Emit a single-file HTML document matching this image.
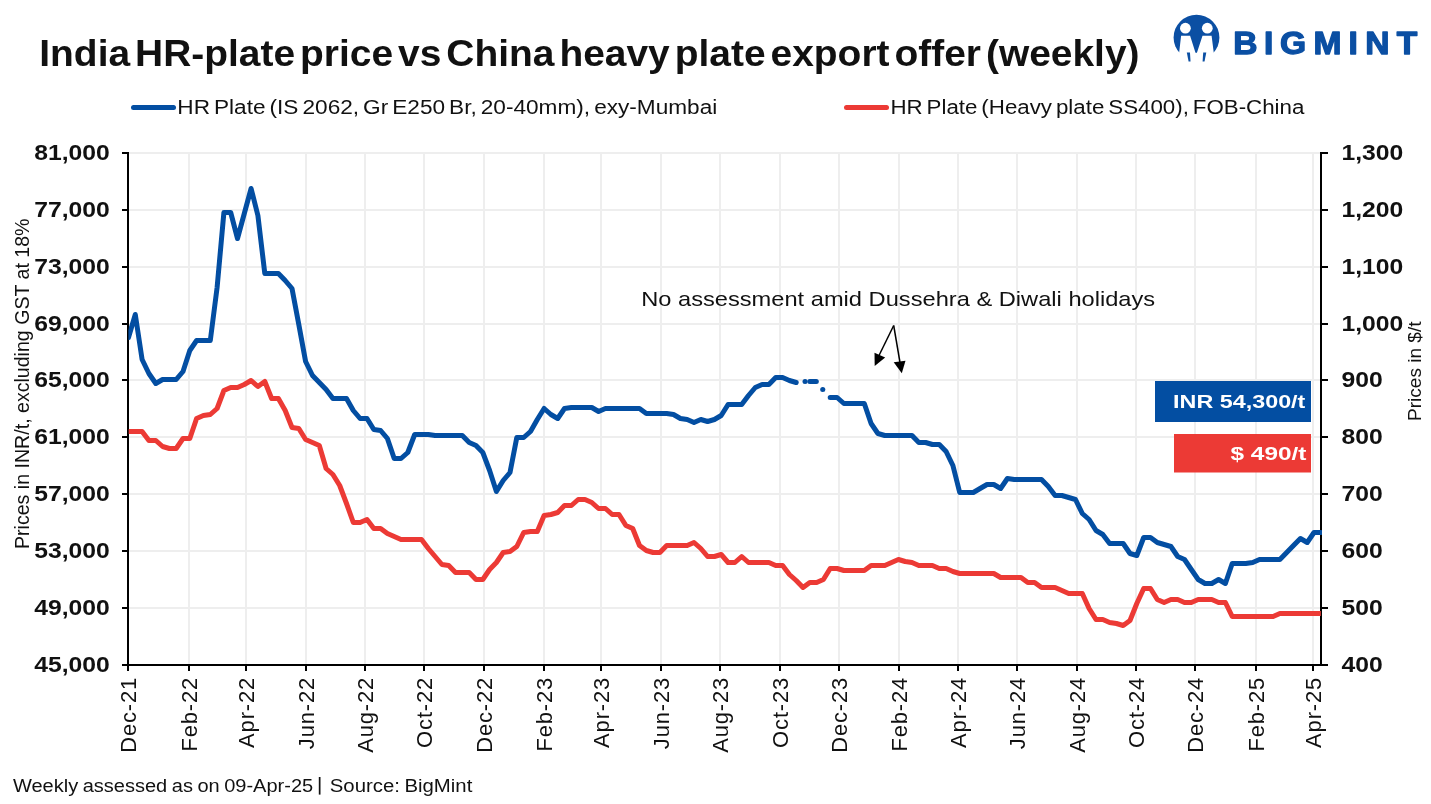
<!DOCTYPE html>
<html><head><meta charset="utf-8"><style>
html,body{margin:0;padding:0;background:#fff;}
body{width:1431px;height:804px;overflow:hidden;}
svg{display:block;will-change:transform;}
text{font-family:"Liberation Sans",sans-serif;fill:#111;white-space:pre;}
.yl{font-size:21.5px;font-weight:bold;letter-spacing:0px;}
.xl{font-size:22px;letter-spacing:0.85px;}
</style></head><body>
<svg width="1431" height="804" viewBox="0 0 1431 804">
<rect width="1431" height="804" fill="#fff"/>
<text x="39.3" y="66" style="font-size:37px;word-spacing:-5.5px;font-weight:bold;" textLength="1100.2" lengthAdjust="spacingAndGlyphs" >India HR-plate price vs China heavy plate export offer (weekly)</text>
<line x1="133.5" y1="107.5" x2="173.5" y2="107.5" stroke="#034ea2" stroke-width="5" stroke-linecap="round"/>
<text x="177.3" y="113.7" style="font-size:20px;word-spacing:-2px;" textLength="540" lengthAdjust="spacingAndGlyphs" >HR Plate (IS 2062, Gr E250 Br, 20-40mm), exy-Mumbai</text>
<line x1="846.5" y1="107.5" x2="886.5" y2="107.5" stroke="#ec3a35" stroke-width="5" stroke-linecap="round"/>
<text x="890.4" y="113.7" style="font-size:20px;word-spacing:-2px;" textLength="414" lengthAdjust="spacingAndGlyphs" >HR Plate (Heavy plate SS400), FOB-China</text>
<g stroke="#eeeeee" stroke-width="2"><line x1="189" y1="153" x2="189" y2="665" /><line x1="246" y1="153" x2="246" y2="665" /><line x1="306" y1="153" x2="306" y2="665" /><line x1="365" y1="153" x2="365" y2="665" /><line x1="424" y1="153" x2="424" y2="665" /><line x1="484" y1="153" x2="484" y2="665" /><line x1="544" y1="153" x2="544" y2="665" /><line x1="601" y1="153" x2="601" y2="665" /><line x1="661" y1="153" x2="661" y2="665" /><line x1="720" y1="153" x2="720" y2="665" /><line x1="780" y1="153" x2="780" y2="665" /><line x1="839" y1="153" x2="839" y2="665" /><line x1="899" y1="153" x2="899" y2="665" /><line x1="958" y1="153" x2="958" y2="665" /><line x1="1017" y1="153" x2="1017" y2="665" /><line x1="1077" y1="153" x2="1077" y2="665" /><line x1="1136" y1="153" x2="1136" y2="665" /><line x1="1195" y1="153" x2="1195" y2="665" /><line x1="1256" y1="153" x2="1256" y2="665" /><line x1="1313" y1="153" x2="1313" y2="665" /><line x1="129" y1="153" x2="1320" y2="153" /><line x1="129" y1="210" x2="1320" y2="210" /><line x1="129" y1="267" x2="1320" y2="267" /><line x1="129" y1="324" x2="1320" y2="324" /><line x1="129" y1="380" x2="1320" y2="380" /><line x1="129" y1="437" x2="1320" y2="437" /><line x1="129" y1="494" x2="1320" y2="494" /><line x1="129" y1="551" x2="1320" y2="551" /><line x1="129" y1="608" x2="1320" y2="608" /></g>
<g stroke="#000" stroke-width="2"><line x1="122" y1="153" x2="128" y2="153"/><line x1="1321" y1="153" x2="1328" y2="153"/><line x1="122" y1="210" x2="128" y2="210"/><line x1="1321" y1="210" x2="1328" y2="210"/><line x1="122" y1="267" x2="128" y2="267"/><line x1="1321" y1="267" x2="1328" y2="267"/><line x1="122" y1="324" x2="128" y2="324"/><line x1="1321" y1="324" x2="1328" y2="324"/><line x1="122" y1="380" x2="128" y2="380"/><line x1="1321" y1="380" x2="1328" y2="380"/><line x1="122" y1="437" x2="128" y2="437"/><line x1="1321" y1="437" x2="1328" y2="437"/><line x1="122" y1="494" x2="128" y2="494"/><line x1="1321" y1="494" x2="1328" y2="494"/><line x1="122" y1="551" x2="128" y2="551"/><line x1="1321" y1="551" x2="1328" y2="551"/><line x1="122" y1="608" x2="128" y2="608"/><line x1="1321" y1="608" x2="1328" y2="608"/><line x1="122" y1="665" x2="128" y2="665"/><line x1="1321" y1="665" x2="1328" y2="665"/><line x1="128" y1="665" x2="128" y2="671"/><line x1="189" y1="665" x2="189" y2="671"/><line x1="246" y1="665" x2="246" y2="671"/><line x1="306" y1="665" x2="306" y2="671"/><line x1="365" y1="665" x2="365" y2="671"/><line x1="424" y1="665" x2="424" y2="671"/><line x1="484" y1="665" x2="484" y2="671"/><line x1="544" y1="665" x2="544" y2="671"/><line x1="601" y1="665" x2="601" y2="671"/><line x1="661" y1="665" x2="661" y2="671"/><line x1="720" y1="665" x2="720" y2="671"/><line x1="780" y1="665" x2="780" y2="671"/><line x1="839" y1="665" x2="839" y2="671"/><line x1="899" y1="665" x2="899" y2="671"/><line x1="958" y1="665" x2="958" y2="671"/><line x1="1017" y1="665" x2="1017" y2="671"/><line x1="1077" y1="665" x2="1077" y2="671"/><line x1="1136" y1="665" x2="1136" y2="671"/><line x1="1195" y1="665" x2="1195" y2="671"/><line x1="1256" y1="665" x2="1256" y2="671"/><line x1="1313" y1="665" x2="1313" y2="671"/>
<line x1="128" y1="152" x2="128" y2="666"/>
<line x1="1321" y1="152" x2="1321" y2="666"/>
<line x1="122" y1="665" x2="1328" y2="665"/>
</g>
<text transform="translate(109.8,160.2) scale(1.15,1)" text-anchor="end" class="yl">81,000</text><text transform="translate(1341.5,160.2) scale(1.15,1)" class="yl">1,300</text><text transform="translate(109.8,217.2) scale(1.15,1)" text-anchor="end" class="yl">77,000</text><text transform="translate(1341.5,217.2) scale(1.15,1)" class="yl">1,200</text><text transform="translate(109.8,274.2) scale(1.15,1)" text-anchor="end" class="yl">73,000</text><text transform="translate(1341.5,274.2) scale(1.15,1)" class="yl">1,100</text><text transform="translate(109.8,331.2) scale(1.15,1)" text-anchor="end" class="yl">69,000</text><text transform="translate(1341.5,331.2) scale(1.15,1)" class="yl">1,000</text><text transform="translate(109.8,387.2) scale(1.15,1)" text-anchor="end" class="yl">65,000</text><text transform="translate(1341.5,387.2) scale(1.15,1)" class="yl">900</text><text transform="translate(109.8,444.2) scale(1.15,1)" text-anchor="end" class="yl">61,000</text><text transform="translate(1341.5,444.2) scale(1.15,1)" class="yl">800</text><text transform="translate(109.8,501.2) scale(1.15,1)" text-anchor="end" class="yl">57,000</text><text transform="translate(1341.5,501.2) scale(1.15,1)" class="yl">700</text><text transform="translate(109.8,558.2) scale(1.15,1)" text-anchor="end" class="yl">53,000</text><text transform="translate(1341.5,558.2) scale(1.15,1)" class="yl">600</text><text transform="translate(109.8,615.2) scale(1.15,1)" text-anchor="end" class="yl">49,000</text><text transform="translate(1341.5,615.2) scale(1.15,1)" class="yl">500</text><text transform="translate(109.8,672.2) scale(1.15,1)" text-anchor="end" class="yl">45,000</text><text transform="translate(1341.5,672.2) scale(1.15,1)" class="yl">400</text>
<text transform="translate(136.0,676.8) rotate(-90)" text-anchor="end" class="xl">Dec-21</text><text transform="translate(197.0,676.8) rotate(-90)" text-anchor="end" class="xl">Feb-22</text><text transform="translate(254.0,676.8) rotate(-90)" text-anchor="end" class="xl">Apr-22</text><text transform="translate(314.0,676.8) rotate(-90)" text-anchor="end" class="xl">Jun-22</text><text transform="translate(373.0,676.8) rotate(-90)" text-anchor="end" class="xl">Aug-22</text><text transform="translate(432.0,676.8) rotate(-90)" text-anchor="end" class="xl">Oct-22</text><text transform="translate(492.0,676.8) rotate(-90)" text-anchor="end" class="xl">Dec-22</text><text transform="translate(552.0,676.8) rotate(-90)" text-anchor="end" class="xl">Feb-23</text><text transform="translate(609.0,676.8) rotate(-90)" text-anchor="end" class="xl">Apr-23</text><text transform="translate(669.0,676.8) rotate(-90)" text-anchor="end" class="xl">Jun-23</text><text transform="translate(728.0,676.8) rotate(-90)" text-anchor="end" class="xl">Aug-23</text><text transform="translate(788.0,676.8) rotate(-90)" text-anchor="end" class="xl">Oct-23</text><text transform="translate(847.0,676.8) rotate(-90)" text-anchor="end" class="xl">Dec-23</text><text transform="translate(907.0,676.8) rotate(-90)" text-anchor="end" class="xl">Feb-24</text><text transform="translate(966.0,676.8) rotate(-90)" text-anchor="end" class="xl">Apr-24</text><text transform="translate(1025.0,676.8) rotate(-90)" text-anchor="end" class="xl">Jun-24</text><text transform="translate(1085.0,676.8) rotate(-90)" text-anchor="end" class="xl">Aug-24</text><text transform="translate(1144.0,676.8) rotate(-90)" text-anchor="end" class="xl">Oct-24</text><text transform="translate(1203.0,676.8) rotate(-90)" text-anchor="end" class="xl">Dec-24</text><text transform="translate(1264.0,676.8) rotate(-90)" text-anchor="end" class="xl">Feb-25</text><text transform="translate(1321.0,676.8) rotate(-90)" text-anchor="end" class="xl">Apr-25</text>
<text transform="translate(29.3,549) rotate(-90)" style="font-size:19.5px" textLength="330.5" lengthAdjust="spacingAndGlyphs">Prices in INR/t, excluding GST at 18%</text>
<text transform="translate(1421,421) rotate(-90)" style="font-size:19px" textLength="99.5" lengthAdjust="spacingAndGlyphs">Prices in $/t</text>
<defs><clipPath id="pc"><rect x="128.4" y="0" width="1193.6" height="804"/></clipPath></defs>
<g fill="none" stroke-linejoin="round" stroke-width="5" clip-path="url(#pc)">
<path d="M128.5,431.5 L135.3,431.5 L142.1,431.5 L148.9,440.5 L155.8,440.5 L162.6,446.5 L169.4,448.5 L176.2,448.5 L183.0,438.5 L189.8,438.5 L196.6,418.5 L203.4,415.5 L210.3,414.5 L217.1,408.5 L223.9,390.5 L230.7,387.5 L237.5,387.5 L244.3,384.5 L251.1,380.5 L257.9,386.5 L264.8,381.5 L271.6,398.5 L278.4,398.5 L285.2,410.5 L292.0,427.5 L298.8,428.5 L305.6,439.5 L312.5,442.5 L319.3,445.5 L326.1,468.5 L332.9,474.5 L339.7,485.5 L346.5,503.5 L353.3,522.5 L360.1,522.5 L367.0,519.5 L373.8,528.5 L380.6,528.5 L387.4,533.5 L394.2,536.5 L401.0,539.5 L407.8,539.5 L414.7,539.5 L421.5,539.5 L428.3,548.5 L435.1,556.5 L441.9,564.5 L448.7,565.5 L455.5,572.5 L462.3,572.5 L469.2,572.5 L476.0,579.5 L482.8,579.5 L489.6,569.5 L496.4,562.5 L503.2,552.5 L510.0,551.5 L516.8,546.5 L523.7,532.5 L530.5,531.5 L537.3,531.5 L544.1,515.5 L550.9,514.5 L557.7,512.5 L564.5,505.5 L571.4,505.5 L578.2,499.5 L585.0,499.5 L591.8,502.5 L598.6,508.5 L605.4,508.5 L612.2,514.5 L619.0,514.5 L625.9,525.5 L632.7,528.5 L639.5,545.5 L646.3,550.5 L653.1,552.5 L659.9,552.5 L666.7,545.5 L673.5,545.5 L680.4,545.5 L687.2,545.5 L694.0,542.5 L700.8,548.5 L707.6,556.5 L714.4,556.5 L721.2,554.5 L728.1,562.5 L734.9,562.5 L741.7,556.5 L748.5,562.5 L755.3,562.5 L762.1,562.5 L768.9,562.5 L775.7,565.5 L782.6,565.5 L789.4,574.5 L796.2,580.5 L803.0,587.5 L809.8,582.5 L816.6,582.5 L823.4,579.5 L830.2,568.5 L837.1,568.5 L843.9,570.5 L850.7,570.5 L857.5,570.5 L864.3,570.5 L871.1,565.5 L877.9,565.5 L884.8,565.5 L891.6,562.5 L898.4,559.5 L905.2,561.5 L912.0,562.5 L918.8,565.5 L925.6,565.5 L932.4,565.5 L939.3,568.5 L946.1,568.5 L952.9,571.5 L959.7,573.5 L966.5,573.5 L973.3,573.5 L980.1,573.5 L987.0,573.5 L993.8,573.5 L1000.6,577.5 L1007.4,577.5 L1014.2,577.5 L1021.0,577.5 L1027.8,582.5 L1034.6,582.5 L1041.5,587.5 L1048.3,587.5 L1055.1,587.5 L1061.9,590.5 L1068.7,593.5 L1075.5,593.5 L1082.3,593.5 L1089.1,608.5 L1096.0,619.5 L1102.8,619.5 L1109.6,622.5 L1116.4,623.5 L1123.2,625.5 L1130.0,620.5 L1136.8,603.5 L1143.7,588.5 L1150.5,588.5 L1157.3,599.5 L1164.1,602.5 L1170.9,599.5 L1177.7,599.5 L1184.5,602.5 L1191.3,602.5 L1198.2,599.5 L1205.0,599.5 L1211.8,599.5 L1218.6,602.5 L1225.4,602.5 L1232.2,616.5 L1239.0,616.5 L1245.8,616.5 L1252.7,616.5 L1259.5,616.5 L1266.3,616.5 L1273.1,616.5 L1279.9,613.5 L1286.7,613.5 L1293.5,613.5 L1300.4,613.5 L1307.2,613.5 L1314.0,613.5 L1320.8,613.5" stroke="#ec3a35" stroke-linecap="butt"/>
<path d="M128.5,337.5 L135.3,314.5 L142.1,359.5 L148.9,373.5 L155.8,383.5 L162.6,379.5 L169.4,379.5 L176.2,379.5 L183.0,371.5 L189.8,350.5 L196.6,340.5 L203.4,340.5 L210.3,340.5 L217.1,287.5 L223.9,212.5 L230.7,212.5 L237.5,238.5 L244.3,213.5 L251.1,188.5 L257.9,215.5 L264.8,273.5 L271.6,273.5 L278.4,273.5 L285.2,280.5 L292.0,288.5 L298.8,324.5 L305.6,361.5 L312.5,375.5 L319.3,382.5 L326.1,389.5 L332.9,398.5 L339.7,398.5 L346.5,398.5 L353.3,410.5 L360.1,418.5 L367.0,418.5 L373.8,429.5 L380.6,430.5 L387.4,438.5 L394.2,458.5 L401.0,458.5 L407.8,452.5 L414.7,434.5 L421.5,434.5 L428.3,434.5 L435.1,435.5 L441.9,435.5 L448.7,435.5 L455.5,435.5 L462.3,435.5 L469.2,442.5 L476.0,445.5 L482.8,452.5 L489.6,470.5 L496.4,491.5 L503.2,480.5 L510.0,472.5 L516.8,437.5 L523.7,437.5 L530.5,431.5 L537.3,419.5 L544.1,408.5 L550.9,414.5 L557.7,418.5 L564.5,408.5 L571.4,407.5 L578.2,407.5 L585.0,407.5 L591.8,407.5 L598.6,411.5 L605.4,408.5 L612.2,408.5 L619.0,408.5 L625.9,408.5 L632.7,408.5 L639.5,408.5 L646.3,413.5 L653.1,413.5 L659.9,413.5 L666.7,413.5 L673.5,414.5 L680.4,418.5 L687.2,419.5 L694.0,422.5 L700.8,419.5 L707.6,421.5 L714.4,419.5 L721.2,415.5 L728.1,404.5 L734.9,404.5 L741.7,404.5 L748.5,395.5 L755.3,387.5 L762.1,384.5 L768.9,384.5 L775.7,377.5 L782.6,377.5 L789.4,380.5 L796.2,382.5" stroke="#034ea2" stroke-linecap="round"/>
<path d="M830.2,397.5 L837.1,397.5 L843.9,403.5 L850.7,403.5 L857.5,403.5 L864.3,403.5 L871.1,423.5 L877.9,433.5 L884.8,435.5 L891.6,435.5 L898.4,435.5 L905.2,435.5 L912.0,435.5 L918.8,442.5 L925.6,442.5 L932.4,444.5 L939.3,444.5 L946.1,451.5 L952.9,465.5 L959.7,492.5 L966.5,492.5 L973.3,492.5 L980.1,488.5 L987.0,484.5 L993.8,484.5 L1000.6,488.5 L1007.4,478.5 L1014.2,479.5 L1021.0,479.5 L1027.8,479.5 L1034.6,479.5 L1041.5,479.5 L1048.3,486.5 L1055.1,495.5 L1061.9,495.5 L1068.7,497.5 L1075.5,499.5 L1082.3,513.5 L1089.1,519.5 L1096.0,530.5 L1102.8,534.5 L1109.6,543.5 L1116.4,543.5 L1123.2,543.5 L1130.0,553.5 L1136.8,555.5 L1143.7,537.5 L1150.5,537.5 L1157.3,542.5 L1164.1,544.5 L1170.9,546.5 L1177.7,556.5 L1184.5,559.5 L1191.3,569.5 L1198.2,579.5 L1205.0,583.5 L1211.8,583.5 L1218.6,579.5 L1225.4,583.5 L1232.2,563.5 L1239.0,563.5 L1245.8,563.5 L1252.7,562.5 L1259.5,559.5 L1266.3,559.5 L1273.1,559.5 L1279.9,559.5 L1286.7,552.5 L1293.5,545.5 L1300.4,538.5 L1307.2,542.5 L1314.0,532.5 L1320.8,532.5" stroke="#034ea2" stroke-linecap="round"/>
<g stroke="#034ea2" stroke-linecap="round">
<line x1="805.0" y1="381.6" x2="805.1" y2="381.6"/>
<line x1="809.8" y1="381.6" x2="816.3" y2="381.6"/>
<line x1="822.7" y1="389.5" x2="822.8" y2="389.5"/>
</g>
</g>
<text x="641.2" y="306" style="font-size:21px;" textLength="514" lengthAdjust="spacingAndGlyphs" >No assessment amid Dussehra &amp; Diwali holidays</text>
<g stroke="#000" stroke-width="1.5" fill="none">
<line x1="893.7" y1="325.5" x2="879" y2="355.5"/>
<line x1="893.7" y1="325.5" x2="900" y2="362.5"/>
</g>
<polygon points="874.5,352.8 885.2,357.5 874.7,366" fill="#000"/>
<polygon points="893.7,362.3 905.5,360.7 901.8,373.3" fill="#000"/>
<rect x="1155" y="381" width="156" height="41" fill="#034ea2"/>
<text x="1173.1" y="408" style="font-size:19px;font-weight:bold;fill:#fff;" textLength="132.3" lengthAdjust="spacingAndGlyphs" >INR 54,300/t</text>
<rect x="1174" y="434" width="137" height="38.5" fill="#ec3a35"/>
<text x="1230.5" y="459.6" style="font-size:19px;font-weight:bold;fill:#fff;" textLength="76" lengthAdjust="spacingAndGlyphs" >$ 490/t</text>
<text x="12.9" y="791.8" style="font-size:18.7px;word-spacing:-1px;" textLength="300.3" lengthAdjust="spacingAndGlyphs" >Weekly assessed as on 09-Apr-25</text>
<rect x="318.8" y="777" width="1.7" height="17.6" fill="#111"/>
<text x="329.8" y="791.8" style="font-size:18.7px;word-spacing:-1px;" textLength="142.5" lengthAdjust="spacingAndGlyphs" >Source: BigMint</text>
<g>
<circle cx="1196.5" cy="37.6" r="22.9" fill="#0b4fa3"/>
<rect x="1170" y="52.8" width="54" height="16" fill="#fff"/>
<circle cx="1185.4" cy="28.2" r="5.4" fill="#fff"/>
<circle cx="1207.3" cy="28.2" r="5.4" fill="#fff"/>
<polygon fill="#fff" points="1181.1,35.8 1190.1,35.8 1196.2,55 1196.2,68 1175,68 1179.1,53"/>
<polygon fill="#fff" points="1202.5,35.8 1211.6,35.8 1213.8,53 1218,68 1196.2,68 1196.2,55"/>
<polygon fill="#0b4fa3" points="1186.8,52.4 1190,52.4 1190.5,61.4 1188.6,61.4"/>
<polygon fill="#0b4fa3" points="1203.2,52.4 1206.3,52.4 1204.5,61.4 1202.6,61.4"/>
</g><text x="1186.19" y="54" text-anchor="middle" transform="scale(1.05,1)" style="font-size:32px;font-weight:bold;fill:#0b4fa3;stroke:#0b4fa3;stroke-width:1.3;stroke-linejoin:round">B</text><text x="1208.29" y="54" text-anchor="middle" transform="scale(1.05,1)" style="font-size:32px;font-weight:bold;fill:#0b4fa3;stroke:#0b4fa3;stroke-width:1.3;stroke-linejoin:round">I</text><text x="1231.62" y="54" text-anchor="middle" transform="scale(1.05,1)" style="font-size:32px;font-weight:bold;fill:#0b4fa3;stroke:#0b4fa3;stroke-width:1.3;stroke-linejoin:round">G</text><text x="1264.19" y="54" text-anchor="middle" transform="scale(1.05,1)" style="font-size:32px;font-weight:bold;fill:#0b4fa3;stroke:#0b4fa3;stroke-width:1.3;stroke-linejoin:round">M</text><text x="1288.86" y="54" text-anchor="middle" transform="scale(1.05,1)" style="font-size:32px;font-weight:bold;fill:#0b4fa3;stroke:#0b4fa3;stroke-width:1.3;stroke-linejoin:round">I</text><text x="1311.81" y="54" text-anchor="middle" transform="scale(1.05,1)" style="font-size:32px;font-weight:bold;fill:#0b4fa3;stroke:#0b4fa3;stroke-width:1.3;stroke-linejoin:round">N</text><text x="1339.90" y="54" text-anchor="middle" transform="scale(1.05,1)" style="font-size:32px;font-weight:bold;fill:#0b4fa3;stroke:#0b4fa3;stroke-width:1.3;stroke-linejoin:round">T</text>
</svg>
</body></html>
